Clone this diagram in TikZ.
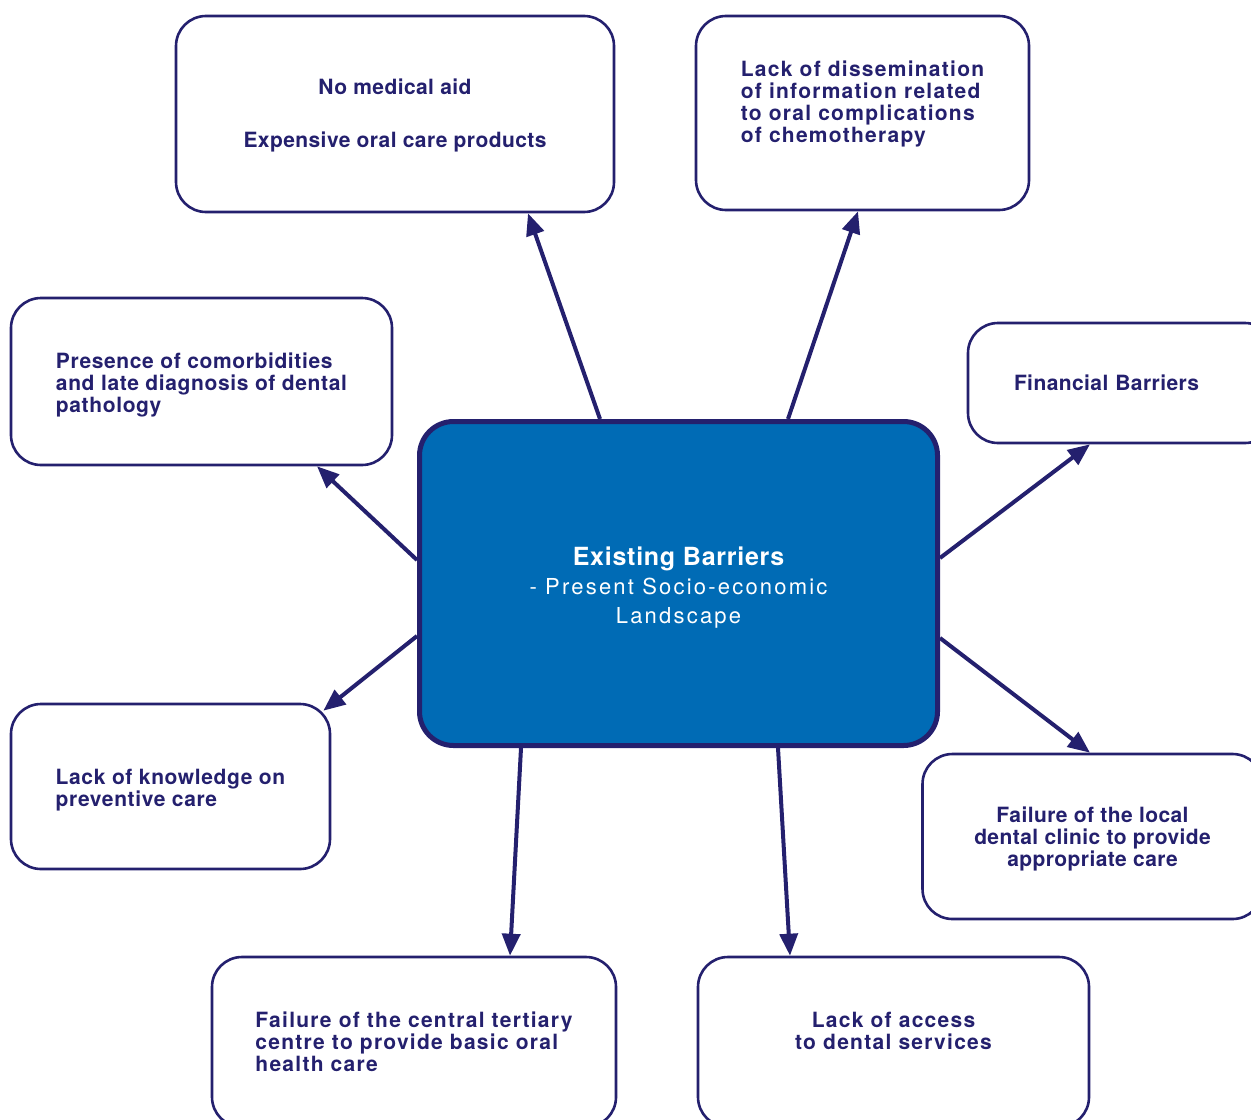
\documentclass[tikz,border=0pt]{standalone}
\usepackage{fontspec}
\setmainfont{TeX Gyre Heros}
\usepackage{xcolor}
\usetikzlibrary{arrows.meta}
\definecolor{navy}{RGB}{36,32,110}
\definecolor{barblue}{RGB}{0,107,181}
\newcommand{\wide}{\addfontfeatures{LetterSpace=6}}
\newcommand{\midwide}{\addfontfeatures{LetterSpace=3}}

\begin{document}
\begin{tikzpicture}[x=0.5pt,y=-0.5pt,
  box/.style={draw=navy, line width=1.3pt, rounded corners=15pt, fill=white, text=navy, inner sep=0pt,
    font={\bfseries\fontsize{10.5}{11}\selectfont\addfontfeatures{LetterSpace=2}}},
  hub/.style={draw=navy, line width=2.5pt, rounded corners=17pt, fill=barblue, text=white, inner sep=0pt,
    font={\fontsize{11}{14.5}\selectfont}},
  arr/.style={navy, line width=2pt, -{Triangle[length=11pt,width=9pt]}}]
\useasboundingbox (0,0) rectangle (1251,1119);
\clip (0,0) rectangle (1251,1119);

% centre
\node[hub, minimum width=259pt, minimum height=162pt, align=center] (ctr) at (678.5,583.5)
  {\mbox{}\\[-1.5pt]
   {\bfseries\fontsize{12.5}{14.5}\selectfont\addfontfeatures{LetterSpace=3}Existing Barriers}\\
   {\addfontfeatures{LetterSpace=10}- Present Socio-economic}\\
   {\addfontfeatures{LetterSpace=10}Landscape}};

% barriers
\node[box, minimum width=219pt, minimum height=98pt, align=center] (med) at (395,114)
  {\mbox{}\\[-1.4pt]No medical aid\\[15.5pt]Expensive oral care products};
\node[box, minimum width=166.5pt, minimum height=97pt, align=left] (dis) at (862.5,113)
  {\wide Lack of dissemination\\\wide of information related\\\wide to oral complications\\\wide of chemotherapy\\\mbox{}};
\node[box, minimum width=190.5pt, minimum height=83.5pt, align=left] (com) at (201.5,381.5)
  {\mbox{}\\[0.6pt]\midwide Presence of comorbidities\\\midwide and late diagnosis of dental\\\midwide pathology};
\node[box, minimum width=153.5pt, minimum height=60pt, text width=107.5pt, align=left] (fin) at (1121.5,383)
  {Financial Barriers};
\node[box, minimum width=159.5pt, minimum height=82.5pt, align=left] (kno) at (170.5,786.5)
  {\mbox{}\\[0.6pt]\midwide Lack of knowledge on\\\midwide preventive care};
\node[box, minimum width=170pt, minimum height=82.5pt, align=center] (loc) at (1092.5,836.5)
  {\mbox{}\\[-0.4pt]Failure of the local\\dental clinic to provide\\appropriate care};
\node[box, minimum width=202pt, minimum height=85pt, align=left] (ter) at (414,1042)
  {\wide Failure of the central tertiary\\\wide centre to provide basic oral\\\wide health care};
\node[box, minimum width=195.5pt, minimum height=85pt, align=center] (acc) at (893.5,1042)
  {\wide Lack of access\\\wide to dental services\\\mbox{}};

\draw[arr] ([xshift=-39.25pt]ctr.north) -- ([xshift=66.5pt]med.south);
\draw[arr] ([xshift=54.75pt]ctr.north) -- ([xshift=-2.25pt]dis.south);
\draw[arr] ([yshift=11.75pt]ctr.west) -- ([xshift=57.75pt]com.south);
\draw[arr] ([yshift=12.75pt]ctr.east) -- ([xshift=-15.75pt]fin.south);
\draw[arr] ([yshift=-26.25pt]ctr.west) -- ([xshift=-4pt,yshift=-4pt]kno.north east);
\draw[arr] ([yshift=-27.25pt]ctr.east) -- ([xshift=-1.25pt]loc.north);
\draw[arr] ([xshift=-78.75pt]ctr.south) -- ([xshift=48pt]ter.north);
\draw[arr] ([xshift=49.75pt]ctr.south) -- ([xshift=-51.75pt]acc.north);
\end{tikzpicture}
\end{document}
